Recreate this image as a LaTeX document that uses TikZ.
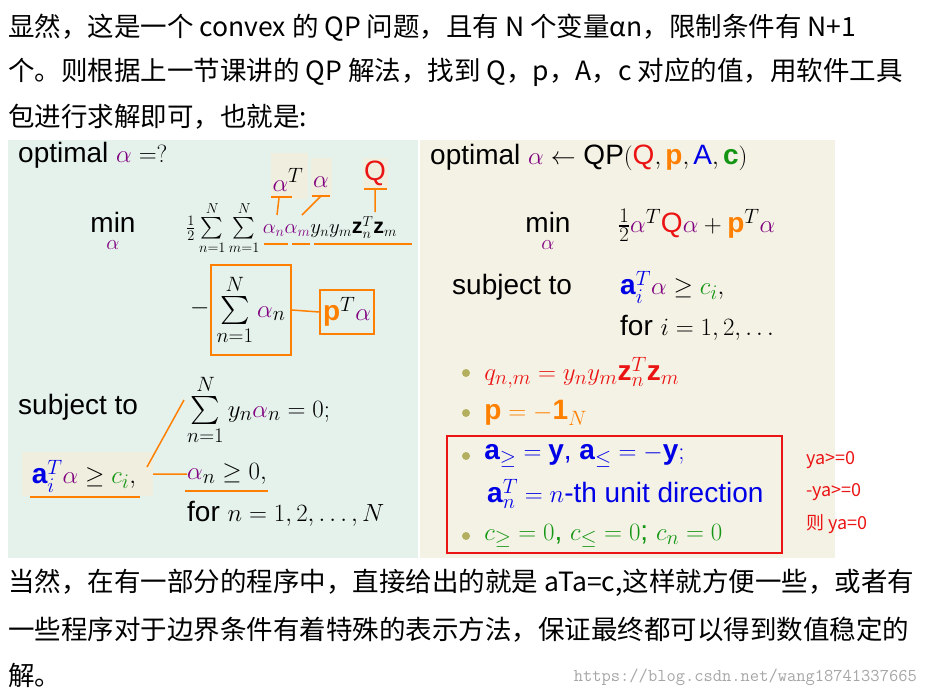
\documentclass[tikz,border=0pt]{standalone}
\usepackage{fontspec}
\usepackage{amsmath,amssymb}
\setmainfont{Liberation Sans}
\newfontfamily\cjk{Noto Sans CJK SC}
\usetikzlibrary{positioning}
\definecolor{lpurple}{RGB}{128,0,128}
\definecolor{lorange}{RGB}{255,128,0}
\definecolor{lgreen}{RGB}{20,150,20}
\definecolor{lblue}{RGB}{0,0,230}
\definecolor{lred}{RGB}{235,20,20}
\definecolor{greenbg}{RGB}{229,242,236}
\definecolor{beigebg}{RGB}{244,242,228}
\definecolor{hlbg}{RGB}{240,238,222}
\definecolor{bulcol}{RGB}{180,175,95}
\newcommand{\al}{\textcolor{lpurple}{\alpha}}

\begin{document}
\begin{tikzpicture}[x=1pt,y=-1pt,
    txt/.style={anchor=west,inner sep=0pt,font=\cjk\fontsize{26.5}{30}\selectfont},
    big/.style={anchor=west,inner sep=0pt,font=\fontsize{28}{32}\selectfont},
    small/.style={anchor=west,inner sep=0pt,font=\fontsize{21.5}{25}\selectfont},
    note/.style={anchor=west,inner sep=0pt,text=lred,font=\cjk\fontsize{18}{21}\selectfont},
    hl/.style={fill=hlbg,draw=none,inner sep=1pt},
    oline/.style={draw=lorange,line width=1.5pt},
    obox/.style={draw=lorange,line width=1.5pt,inner sep=2pt},
    bul/.style={circle,fill=bulcol,inner sep=0pt,minimum size=8pt}]
  \useasboundingbox (0,0) rectangle (927,697);
  \fill[greenbg] (8,140) rectangle (418,558);
  \fill[beigebg] (420,140) rectangle (835,558);

  % text above
  \node[txt] (t1) at (8,28) {显然，这是一个 convex 的 QP 问题，且有 N 个变量αn，限制条件有 N+1};
  \node[txt] (t2) at (8,72) {个。则根据上一节课讲的 QP 解法，找到 Q，p，A，c 对应的值，用软件工具};
  \node[txt] (t3) at (8,117) {包进行求解即可，也就是:};

  % left panel
  \node[big] (optl) at (18,155) {optimal $\al = ?$};
  \node[hl,minimum width=37pt,minimum height=46pt] (hat) at (289.5,176) {};
  \node[hl,minimum width=21pt,minimum height=40pt] (hal) at (321.5,178) {};
  \node[hl,minimum width=25pt,minimum height=32pt] (hq) at (375.5,174) {};
  \node[big,anchor=center] (aT) at (288,180) {$\al^T$};
  \node[big,anchor=center] (a2) at (321,182) {$\al$};
  \node[big,anchor=center,text=lred] (Q) at (375,173) {$\mathrm{Q}$};
  \node[big,anchor=center] (minl) at (113,232) {$\min\limits_{\al}$};
  \node[small] (quad) at (186,228)
    {$\frac12\sum\limits_{n=1}^{N}\sum\limits_{m=1}^{N}\textcolor{lpurple}{\alpha_n}\textcolor{lpurple}{\alpha_m}y_n y_m \mathbf{z}_n^T\mathbf{z}_m$};
  \draw[oline] (271,197) -- (292,197) (312,196) -- (330,196) (364,189) -- (387,189);
  \draw[oline] (264,244) -- (288,244) (292,244) -- (310,244) (314,244) -- (412,244);
  \draw[oline] (279,198) -- (277,215) (321,196) -- (302,215) (375,190) -- (375,212);
  \node[big] (minus) at (190,308) {$-$};
  \node[obox,big,minimum width=80pt,minimum height=90pt,anchor=center] (sumb) at (251,310) {$\sum\limits_{n=1}^{N}\al_n$};
  \node[obox,big,anchor=center,minimum height=44pt,inner sep=3pt] (pTa) at (347,312) {$\textcolor{lorange}{\mathbf{p}}^T\al$};
  \draw[oline] (sumb.east) -- (pTa.west);
  \node[big] (subl) at (18,407) {subject to};
  \node[big] (eq0) at (187,410) {$\sum\limits_{n=1}^{N} y_n\al_n = 0;$};
  \node[hl,minimum width=131pt,minimum height=44pt] (hac) at (87.5,474) {};
  \node[big,anchor=center] (acl) at (84,476) {$\textcolor{lblue}{\mathbf{a}_i^T}\al\geq\textcolor{lgreen}{c_i},$};
  \draw[oline] (30,497) -- (140,497);
  \node[big] (ag0) at (187,474) {$\al_n\geq 0,$};
  \draw[oline] (185,491) -- (268,491);
  \draw[oline] (147,467) -- (184,400) (153,474) -- (ag0.west);
  \node[big] (forn) at (187,514) {for $n = 1,2,\ldots,N$};

  % right panel
  \node[big] (optr) at (430,157) {optimal $\al\leftarrow$ QP$(\textcolor{lred}{\mathrm{Q}},\textcolor{lorange}{\mathbf{p}},\textcolor{lblue}{\mathrm{A}},\textcolor{lgreen}{\mathbf{c}})$};
  \node[big,anchor=center] (minr) at (548,232) {$\min\limits_{\al}$};
  \node[big] (obj) at (618,225) {$\tfrac12\al^T\textcolor{lred}{\mathrm{Q}}\al+\textcolor{lorange}{\mathbf{p}}^T\al$};
  \node[big] (subr) at (452,287) {subject to};
  \node[big] (acr) at (620,287) {$\textcolor{lblue}{\mathbf{a}_i^T}\al\geq\textcolor{lgreen}{c_i},$};
  \node[big] (fori) at (620,328) {for $i = 1,2,\ldots$};
  \node[bul] (b1) at (466,373) {};
  \node[big,text=lred,right=14pt of b1] (qnm) {$q_{n,m} = y_n y_m\mathbf{z}_n^T\mathbf{z}_m$};
  \node[bul] (b2) at (466,413) {};
  \node[big,text=lorange,right=14pt of b2] (pv) {$\mathbf{p} = -\mathbf{1}_N$};
  \draw[lred,line width=1.6pt] (447,436) rectangle (782,553);
  \node[bul] (b3) at (466,456) {};
  \node[big,text=lblue,right=14pt of b3] (ay) {$\mathbf{a}_{\geq} = \mathbf{y}$, $\mathbf{a}_{\leq} = -\mathbf{y};$};
  \node[big,text=lblue] (an) at (487,494) {$\mathbf{a}_n^T = n$-th unit direction};
  \node[bul] (b4) at (466,536) {};
  \node[big,text=lgreen,right=14pt of b4] (cv) {$c_{\geq} = 0$, $c_{\leq} = 0$; $c_n = 0$};
  \node[note] (n1) at (806,460) {ya>=0};
  \node[note] (n2) at (806,492) {-ya>=0};
  \node[note] (n3) at (806,524) {则 ya=0};

  % text below
  \node[txt] (t4) at (8,583) {当然，在有一部分的程序中，直接给出的就是 aTa=c,这样就方便一些，或者有};
  \node[txt] (t5) at (8,630) {一些程序对于边界条件有着特殊的表示方法，保证最终都可以得到数值稳定的};
  \node[txt] (t6) at (8,675) {解。};
  \node[anchor=east,inner sep=0pt,text=black!35,font=\ttfamily\fontsize{18}{21}\selectfont] (wm) at (917,677) {https://blog.csdn.net/wang18741337665};
\end{tikzpicture}
\end{document}
